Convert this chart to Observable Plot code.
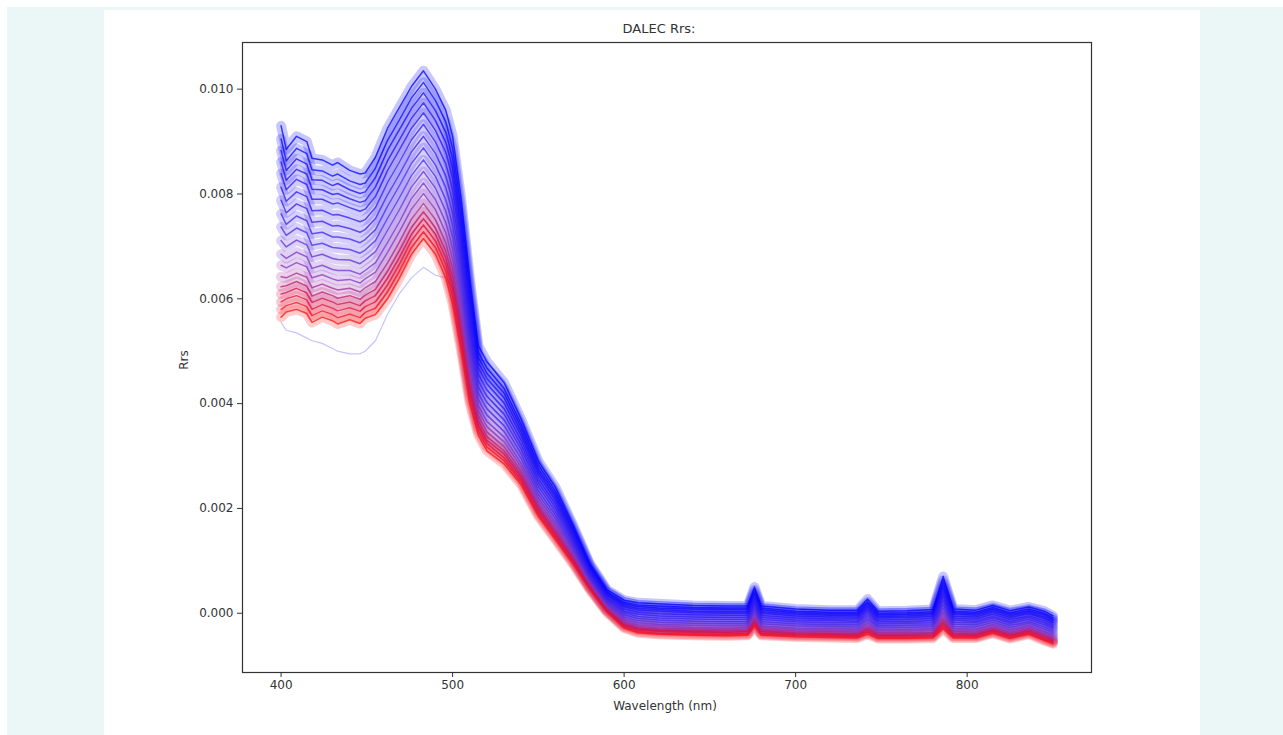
<!DOCTYPE html>
<html><head><meta charset="utf-8">
<script src="https://cdn.jsdelivr.net/npm/d3@7"></script>
<script src="https://cdn.jsdelivr.net/npm/@observablehq/plot@0.6"></script>
<style>
html,body{margin:0;padding:0;background:#fff;width:1283px;height:735px;overflow:hidden;font-family:"DejaVu Sans",sans-serif;}
#bg{position:absolute;left:7px;top:7px;width:1276px;height:728px;background:#ebf6f7;}
#fig{position:absolute;left:104px;top:10px;width:1096px;height:725px;background:#fff;}
#chart{position:absolute;left:0;top:0;}
.lbl{position:absolute;color:#333;font-family:"DejaVu Sans",sans-serif;white-space:nowrap;line-height:16px;}
#title{left:355px;width:400px;top:11px;text-align:center;font-size:13px;}
#xlab{left:361px;width:400px;top:688px;text-align:center;font-size:12px;}
#ylab{left:40px;width:80px;top:342px;text-align:center;font-size:12px;transform:rotate(-90deg);}
</style></head>
<body>
<div id="bg"></div>
<div id="fig">
  <div id="chart"></div>
  <div class="lbl" id="title">DALEC Rrs:</div>
  <div class="lbl" id="xlab">Wavelength (nm)</div>
  <div class="lbl" id="ylab">Rrs</div>
</div>
<script>
// Wavelengths (nm) of the sampled bands
const wavelengths = [400,403,409,415,418,424,430,433,440,446,449,455,462,469,476,483,490,496,500,505,510,515,520,530,540,550,560,570,580,590,600,608,620,640,660,672,676,680,700,720,736,742,748,765,780,786,792,805,815,825,836,845,850];

// Rrs spectra in units of 1e-5 sr^-1, ordered from the red (lowest) to the blue (highest) spectrum
const s00 = [565,575,580,572,555,565,558,552,560,553,563,570,600,640,685,715,685,640,590,500,400,340,310,285,245,185,140,95,45,2,-28,-37,-40,-42,-43,-42,-25,-42,-45,-46,-47,-40,-48,-48,-47,-30,-47,-47,-38,-48,-40,-52,-58];
const s01 = [580,587,593,585,568,577,570,564,571,564,574,582,613,653,698,728,698,653,603,512,410,347,317,291,250,189,144,98,47,4,-26,-35,-38,-40,-41,-40,-22,-40,-43,-44,-45,-37,-46,-46,-45,-26,-45,-45,-36,-46,-38,-50,-56];
const s02 = [594,600,606,598,580,589,582,577,583,576,585,594,626,666,711,741,710,666,616,523,419,354,324,297,255,193,148,101,49,5,-24,-32,-35,-37,-38,-38,-19,-38,-41,-42,-43,-35,-44,-44,-43,-22,-43,-43,-34,-44,-36,-48,-54];
const s03 = [609,612,620,611,593,601,594,589,594,587,596,606,639,679,723,753,723,678,628,535,429,360,330,304,260,198,152,104,51,7,-22,-30,-33,-35,-36,-35,-16,-35,-39,-40,-41,-32,-42,-42,-41,-18,-40,-41,-32,-42,-34,-45,-52];
const s04 = [623,625,633,624,605,613,606,601,606,599,607,618,652,692,736,766,735,691,641,546,438,367,337,310,265,202,156,107,53,9,-20,-28,-31,-33,-34,-33,-13,-33,-37,-38,-39,-29,-40,-40,-38,-14,-38,-39,-30,-40,-32,-43,-50];
const s05 = [642,640,649,641,621,628,620,617,620,613,621,633,668,708,752,782,751,707,657,561,450,376,346,318,271,207,161,111,56,11,-17,-25,-28,-30,-31,-30,-9,-30,-34,-35,-36,-26,-37,-37,-36,-9,-35,-36,-27,-37,-29,-40,-47];
const s06 = [664,659,669,661,640,646,638,635,637,630,638,651,688,728,771,801,770,726,676,578,465,386,356,327,279,213,167,115,59,14,-14,-22,-24,-27,-28,-27,-5,-27,-31,-32,-33,-22,-34,-34,-32,-3,-32,-33,-24,-34,-26,-37,-44];
const s07 = [685,677,689,680,658,664,656,654,654,647,654,669,707,747,791,821,789,746,696,596,479,396,366,336,286,220,173,120,62,16,-11,-18,-21,-23,-24,-24,0,-24,-28,-29,-30,-18,-31,-31,-29,3,-29,-30,-21,-31,-23,-34,-41];
const s08 = [711,699,712,703,680,685,677,675,674,667,674,690,730,770,813,843,811,768,718,616,496,408,378,347,295,227,180,125,65,19,-7,-14,-17,-19,-20,-20,5,-20,-24,-25,-26,-13,-27,-27,-25,10,-25,-26,-17,-27,-19,-30,-37];
const s09 = [737,721,735,726,702,706,698,697,694,687,693,711,753,793,835,865,833,790,740,636,513,420,390,358,304,234,187,130,69,22,-3,-10,-13,-15,-16,-16,10,-16,-20,-22,-22,-9,-24,-23,-22,17,-21,-22,-13,-23,-16,-26,-33];
const s10 = [762,742,758,749,724,727,718,718,714,707,713,732,776,816,858,888,855,813,763,657,530,432,402,369,313,242,194,136,72,25,1,-6,-9,-11,-12,-12,16,-12,-16,-18,-18,-4,-20,-19,-18,24,-17,-18,-9,-19,-12,-22,-29];
const s11 = [788,764,781,772,746,748,739,740,734,727,732,753,798,838,880,910,877,835,785,677,546,444,414,380,321,249,201,141,76,28,4,-2,-5,-7,-8,-8,21,-8,-13,-14,-15,1,-16,-16,-14,31,-13,-15,-6,-16,-8,-18,-26];
const s12 = [813,786,804,795,768,769,760,761,754,747,751,774,821,861,903,933,899,858,808,697,563,456,426,390,330,256,208,146,79,31,8,2,-1,-3,-4,-4,26,-4,-9,-11,-11,6,-13,-12,-10,38,-10,-11,-2,-12,-5,-14,-22];
const s13 = [839,808,828,818,790,790,781,783,774,767,771,795,844,884,925,955,921,880,830,718,580,468,438,401,339,264,215,151,83,34,12,6,4,1,0,0,31,0,-5,-7,-7,10,-9,-8,-6,45,-6,-7,2,-8,-1,-10,-18];
const s14 = [861,826,847,838,809,808,799,801,791,784,787,813,863,903,944,974,940,899,849,735,594,478,448,411,346,270,221,156,86,37,15,9,7,4,3,3,36,3,-2,-4,-4,14,-6,-5,-3,51,-2,-4,5,-5,2,-7,-15];
const s15 = [883,845,867,857,827,826,816,820,808,801,804,831,883,923,963,993,959,918,868,752,609,488,458,420,354,276,227,160,89,39,18,13,10,8,7,7,40,7,1,-1,-1,18,-3,-2,0,57,1,-1,8,-2,5,-3,-12];
const s16 = [905,863,887,877,846,844,834,838,825,818,821,849,902,942,983,1013,978,938,888,770,623,498,468,429,361,283,233,165,92,42,21,16,14,11,10,10,45,10,4,2,2,22,0,1,3,63,4,2,11,1,8,0,-9];
const s17 = [930,885,910,900,868,865,855,860,845,838,840,870,925,965,1005,1035,1000,960,910,790,640,510,480,440,370,290,240,170,95,45,25,20,18,15,14,14,50,14,8,6,6,27,4,5,7,70,8,6,15,5,12,4,-5];
// faint pale-blue outlier spectrum (lowest in the blue bands)
const outlier = [555,540,535,525,520,515,505,500,495,495,500,520,570,610,640,660,645,640,620,560,500,485,480,445,375,295,245,175,100,50,30,24,22,19,18,18,40,18,12,10,10,20,8,9,11,50,12,10,17,9,14,8,0];

const spectra = [s00,s01,s02,s03,s04,s05,s06,s07,s08,s09,s10,s11,s12,s13,s14,s15,s16,s17];
const yTicks = [0, 0.002, 0.004, 0.006, 0.008, 0.010];
const xTicks = [400, 500, 600, 700, 800];

const rows = [];
spectra.forEach((s, i) => s.forEach((v, j) => rows.push({series: i, wl: wavelengths[j], rrs: v * 1e-5})));
const outRows = outlier.map((v, j) => ({wl: wavelengths[j], rrs: v * 1e-5}));

const chart = Plot.plot({
  width: 1096, height: 725,
  marginLeft: 138, marginRight: 109, marginTop: 32, marginBottom: 63,
  style: {fontFamily: "DejaVu Sans, sans-serif", fontSize: "12px", color: "#333", background: "transparent"},
  x: {domain: [377.5, 872.5]},
  y: {domain: [-0.00113, 0.01089]},
  color: {type: "linear", domain: [0, 3, 6, 9, 17], range: ["#ff1010", "#d01050", "#8a35c0", "#4a28e8", "#0000ff"], interpolate: "rgb"},
  marks: [
    Plot.line(outRows, {x: "wl", y: "rrs", stroke: "#7d7dff", strokeWidth: 1.2, strokeOpacity: 0.45}),
    Plot.line(rows, {x: "wl", y: "rrs", z: "series", stroke: "series", strokeWidth: 10, strokeOpacity: 0.22, strokeLinejoin: "round"}),
    Plot.line(rows, {x: "wl", y: "rrs", z: "series", stroke: "series", strokeWidth: 1.5, strokeOpacity: 0.75}),
    Plot.frame({stroke: "#333", strokeWidth: 1.2}),
    Plot.axisX({ticks: xTicks, tickSize: 5, tickPadding: 3, label: null, stroke: "#333", fill: "#333"}),
    Plot.axisY({ticks: yTicks, tickSize: 5, tickPadding: 4, tickFormat: d3.format(".3f"), label: null, stroke: "#333", fill: "#333"})
  ]
});
document.getElementById("chart").appendChild(chart);
</script>
</body></html>
